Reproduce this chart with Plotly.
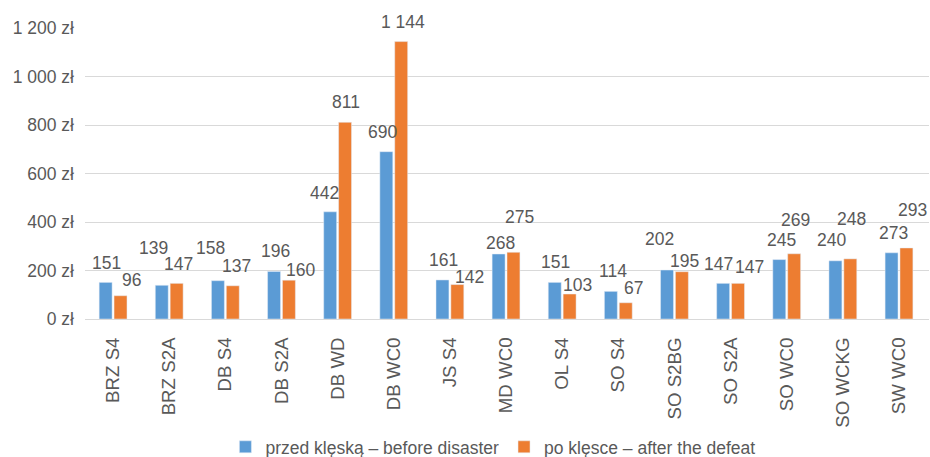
import plotly.graph_objects as go

categories = ["BRZ S4", "BRZ S2A", "DB S4", "DB S2A", "DB WD", "DB WC0", "JS S4", "MD WC0",
              "OL S4", "SO S4", "SO S2BG", "SO S2A", "SO WC0", "SO WCKG", "SW WC0"]
before = [151, 139, 158, 196, 442, 690, 161, 268, 151, 114, 202, 147, 245, 240, 273]
after = [96, 147, 137, 160, 811, 1144, 142, 275, 103, 67, 195, 147, 269, 248, 293]
before_label = ["151", "139", "158", "196", "442", "690", "161", "268", "151", "114", "202", "147", "245", "240", "273"]
after_label = ["96", "147", "137", "160", "811", "1 144", "142", "275", "103", "67", "195", "147", "269", "248", "293"]
tick_vals = [0, 200, 400, 600, 800, 1000, 1200]
tick_text = ["0 zł", "200 zł", "400 zł", "600 zł", "800 zł", "1 000 zł", "1 200 zł"]
series_names = ["przed klęską – before disaster", "po klęsce – after the defeat"]

# label nudges (pixels) mimicking the manually placed data labels
before_dx = [1, -8, -7, 2, -6, -4, 1, 2, 1, 2, -7, -5, 2, -4, 2]
before_dy = [19, 37, 33, 20, 19, 20, 20, 11, 20, 20, 31, 19, 20, 21, 20]
after_dx = [11, 2, 4, 12, 1, 2, 12, 6, 8, 8, 3, 11, 1, 1, 6]
after_dy = [16, 19, 20, 10, 20, 20, 8, 35, 9, 15, 11, 16, 34, 40, 38]

BLUE = "#5B9BD5"
ORANGE = "#ED7D31"
TXT = "#595959"
FONT = "Liberation Sans, Arial, sans-serif"
FS = 17.5

fig = go.Figure()
fig.add_trace(go.Bar(x=categories, y=before, name=series_names[0], marker_color=BLUE))
fig.add_trace(go.Bar(x=categories, y=after, name=series_names[1], marker_color=ORANGE))

annotations = []
for i, c in enumerate(categories):
    annotations.append(dict(x=c, y=before[i], xref="x", yref="y", text=before_label[i],
                            showarrow=False, xshift=-7.5 + before_dx[i], yshift=before_dy[i],
                            yanchor="middle", xanchor="center",
                            font=dict(family=FONT, size=FS, color=TXT)))
    annotations.append(dict(x=c, y=after[i], xref="x", yref="y", text=after_label[i],
                            showarrow=False, xshift=7.5 + after_dx[i], yshift=after_dy[i],
                            yanchor="middle", xanchor="center",
                            font=dict(family=FONT, size=FS, color=TXT)))

fig.update_layout(
    width=930, height=457,
    margin=dict(l=85, r=1, t=28, b=138),
    paper_bgcolor="white", plot_bgcolor="white",
    barmode="group", bargap=0.47, bargroupgap=0.13,
    font=dict(family=FONT, size=FS, color=TXT),
    annotations=annotations,
    showlegend=True,
    legend=dict(orientation="h", xref="container", yref="container",
                x=0.53, y=0.022, xanchor="center", yanchor="middle",
                itemwidth=30, font=dict(family=FONT, size=FS, color=TXT),
                bgcolor="rgba(0,0,0,0)", traceorder="normal"),
    xaxis=dict(tickangle=-90, showgrid=False, showline=True, linecolor="#D9D9D9",
               linewidth=1, ticks="", ticklabelstandoff=10,
               tickfont=dict(family=FONT, size=18.7, color=TXT)),
    yaxis=dict(range=[0, 1200], tickvals=tick_vals, ticktext=tick_text,
               showgrid=True, gridcolor="#D9D9D9", gridwidth=1, zeroline=False,
               showline=False, ticks="", ticklabelstandoff=10,
               tickfont=dict(family=FONT, size=FS, color=TXT)),
)

fig.write_html("out.html")
